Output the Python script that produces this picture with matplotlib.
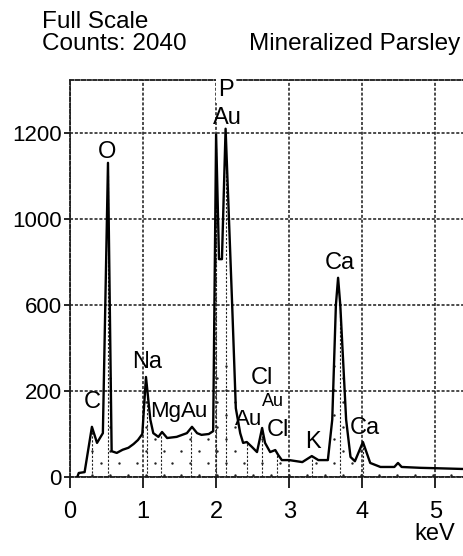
import matplotlib
matplotlib.use("Agg")
import matplotlib.pyplot as plt
import numpy as np

plt.rcParams["font.family"] = ["Liberation Sans Narrow", "Liberation Sans", "DejaVu Sans"]

# EDS spectrum, energy in keV and counts
energy = [0.10, 0.12, 0.20, 0.30, 0.37, 0.45, 0.52, 0.57, 0.64, 0.72, 0.80, 0.87, 0.93,
          0.99, 1.04, 1.10, 1.14, 1.21, 1.26, 1.33, 1.46, 1.60, 1.67, 1.74, 1.80, 1.90,
          1.96, 2.00, 2.04, 2.08, 2.13, 2.22, 2.27, 2.33, 2.37, 2.42, 2.49, 2.56, 2.63,
          2.67, 2.74, 2.81, 2.85, 2.90, 3.00, 3.18, 3.31, 3.40, 3.53, 3.59, 3.64, 3.67,
          3.70, 3.78, 3.84, 3.90, 4.01, 4.11, 4.25, 4.44, 4.49, 4.54, 4.80, 5.10, 5.38]
counts = [0, 14, 17, 175, 119, 153, 1096, 90, 84, 95, 102, 115, 129,
          150, 349, 200, 153, 140, 157, 136, 140, 153, 175, 153, 147, 150,
          160, 1195, 760, 760, 1215, 600, 240, 153, 119, 122, 105, 87, 171,
          119, 87, 94, 77, 59, 59, 52, 73, 59, 59, 200, 600, 695,
          600, 200, 70, 55, 122, 49, 35, 35, 49, 35, 32, 30, 28]

# element line markers (keV)
marker_kev = [0.30, 0.52, 1.05, 1.25, 1.65, 2.00, 2.14, 2.42, 2.63, 2.83, 3.31, 3.69, 4.01]

# peak labels: text, keV, counts, size, alignment
peak_labels = [
    ("C", 0.30, 262, 17, "center"), ("O", 0.51, 1134, 17, "center"),
    ("Na", 1.05, 401, 17, "center"), ("Mg", 1.52, 227, 16, "right"),
    ("Au", 1.52, 227, 16, "left"), ("Au", 2.44, 199, 16, "center"),
    ("Cl", 2.63, 346, 17, "center"), ("Au", 2.78, 262, 13, "center"),
    ("Cl", 2.84, 164, 17, "center"), ("K", 3.32, 122, 17, "center"),
    ("Ca", 3.70, 747, 17, "center"), ("Ca", 4.03, 171, 17, "center"),
    ("Au", 2.15, 1253, 17, "center"),
]

ytick_pos = [0, 300, 600, 900, 1200]
ytick_text = ["0", "200", "600", "1000", "1200"]
xtick_pos = [0, 1, 2, 3, 4, 5]

fig = plt.figure(figsize=(4.63, 5.56), dpi=100)
ax = fig.add_axes([70 / 463, 79 / 556, 1 - 70 / 463, 397 / 556])
ax.set_xlim(0, 5.38)
ax.set_ylim(0, 1385)

dash = (0, (2.0, 1.2))
ax.grid(True, color="#1a1a1a", linestyle=dash, linewidth=1.1)
ax.set_axisbelow(True)

# stippled fill under the spectrum
xs = []
ys = []
for i, yy in enumerate(np.arange(8, 400, 42)):
    shift = 0.0 if i % 2 == 0 else 0.123
    for xx in np.arange(0.05 + shift, 5.38, 0.246):
        if np.interp(xx, energy, counts, left=0) > yy + 12:
            xs.append(xx)
            ys.append(yy)
ax.scatter(xs, ys, s=3, color="#222222", linewidths=0, zorder=2)

# element marker lines
for e in marker_kev:
    top = np.interp(e, energy, counts) * 0.96
    ax.plot([e, e], [0, top], color="#222222", linewidth=0.8, linestyle=(0, (2, 1.5)), zorder=2)

ax.plot(energy, counts, color="black", linewidth=1.7, zorder=3)

for text, e, c, size, align in peak_labels:
    ax.text(e, c, text, ha=align, va="center", fontsize=size, zorder=4)
ax.text(2.14, 1351, "P", ha="center", va="center", fontsize=17, zorder=5, clip_on=False,
        bbox=dict(facecolor="white", edgecolor="none", pad=1.5))

for side in ["left", "top", "bottom"]:
    ax.spines[side].set_linestyle(dash)
    ax.spines[side].set_linewidth(1.3)
    ax.spines[side].set_color("#1a1a1a")
ax.spines["right"].set_visible(False)

ax.set_xticks(xtick_pos)
ax.set_xticklabels([str(v) for v in xtick_pos], fontsize=17)
ax.set_yticks(ytick_pos)
ax.set_yticklabels(ytick_text, fontsize=16)
ax.tick_params(axis="x", length=8, width=1.2, pad=9)
ax.tick_params(axis="y", length=4, width=1.2, pad=2)

fig.text(42 / 463, 1 - 28 / 556, "Full Scale", fontsize=17.5, family=["Liberation Sans", "DejaVu Sans"],
         ha="left", va="baseline")
fig.text(42 / 463, 1 - 50 / 556, "Counts: 2040", fontsize=17.5, family=["Liberation Sans", "DejaVu Sans"],
         ha="left", va="baseline")
fig.text(460 / 463, 1 - 50 / 556, "Mineralized Parsley", fontsize=17.5,
         family=["Liberation Sans", "DejaVu Sans"], ha="right", va="baseline")
fig.text(435 / 463, 1 - 540 / 556, "keV", fontsize=17, ha="center", va="baseline")

fig.savefig("out.png", dpi=100)
